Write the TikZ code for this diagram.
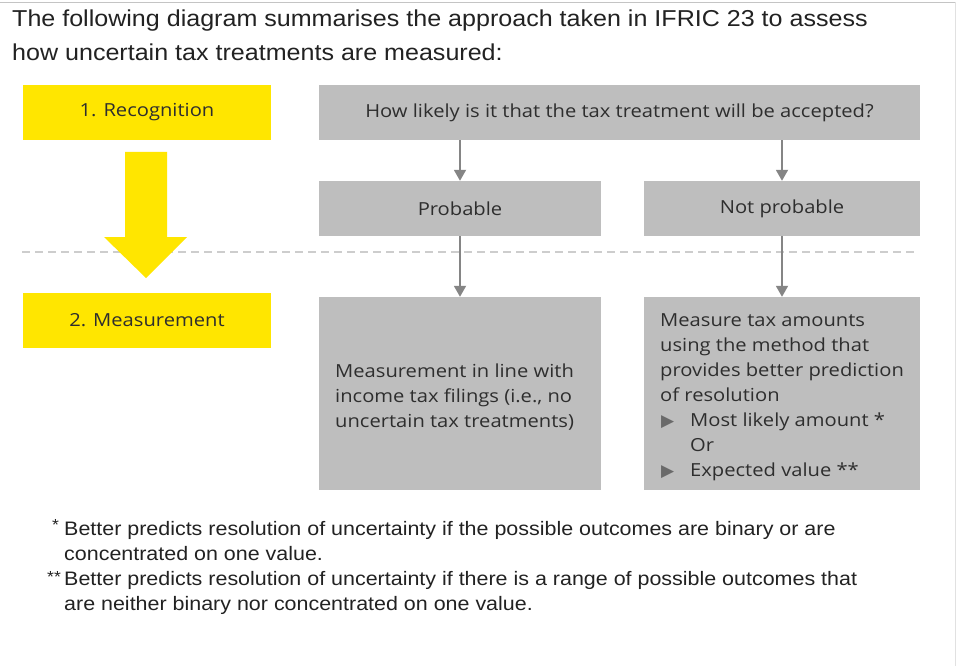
\documentclass[tikz,border=0pt]{standalone}
\usepackage{fontspec}
\setmainfont[FakeStretch=1.12]{Open Sans}
\newfontfamily\titlefont[FakeStretch=1.09]{Liberation Sans}
\newfontfamily\notefont[FakeStretch=1.1]{Liberation Sans}
\newfontfamily\symfont{DejaVu Sans}
\usetikzlibrary{arrows.meta}
\definecolor{eyyellow}{HTML}{FFE600}
\definecolor{boxgray}{HTML}{BEBEBE}
\definecolor{arrgray}{HTML}{858585}
\definecolor{bulgray}{HTML}{6A6A6A}
\definecolor{txt}{HTML}{2E2E2E}
\definecolor{titletxt}{HTML}{222222}
\definecolor{dashgray}{HTML}{CDCDCD}
\definecolor{edgegray}{HTML}{C4C4C4}
\begin{document}
\begin{tikzpicture}[x=1pt,y=-1pt,
  boxfont/.style={font=\fontsize{18}{25}\selectfont, text=txt},
  ybox/.style={fill=eyyellow, minimum width=248pt, minimum height=55pt, inner sep=0pt, boxfont},
  gbox/.style={fill=boxgray, inner sep=0pt, boxfont},
  conn/.style={draw=arrgray, line width=1.8pt, -{Triangle[length=11pt,width=12pt]}},
  ttl/.style={anchor=base west, inner sep=0pt, text=titletxt, font=\titlefont\fontsize{23}{34}\selectfont},
  fnote/.style={anchor=base west, inner sep=0pt, align=left, text=titletxt, font=\notefont\fontsize{19.5}{25}\selectfont}
]
\useasboundingbox (0,0) rectangle (956,666);
\fill[white] (0,0) rectangle (956,666);
\draw[edgegray, line width=1.2pt] (0,2.5) -- (956,2.5);
\draw[edgegray!50, line width=0.8pt] (955,2.5) -- (955,666);

% title
\node[ttl] (t1) at (12,27) {The following diagram summarises the approach taken in IFRIC 23 to assess};
\node[ttl] (t2) at (12,61) {how uncertain tax treatments are measured:};

% dashed separator
\draw[dashgray, line width=2pt, dash pattern=on 8pt off 5pt] (22,252) -- (915,252);

% yellow boxes
\node[ybox] (rec) at (147,112.5) {1. Recognition};
\node[ybox] (mea) at (147,320.5) {2. Measurement};

% yellow arrow
\fill[eyyellow] (125,152) -- (167,152) -- (167,237) -- (187,237) -- (146,278) -- (104,237) -- (125,237) -- cycle;

% gray boxes
\node[gbox, minimum width=601pt, minimum height=55pt] (q) at (619.5,112.5) {How likely is it that the tax treatment will be accepted?};
\node[gbox, minimum width=282pt, minimum height=55pt] (p) at (460,208.5) {Probable};
\node[gbox, minimum width=276pt, minimum height=55pt] (np) at (782,208.5) {Not probable};
\node[gbox, minimum width=282pt, minimum height=193pt] (ml) at (460,393.5) {};
\node[gbox, minimum width=276pt, minimum height=193pt] (mr) at (782,393.5) {};

\node[boxfont, anchor=base west, align=left, inner sep=0pt] (mltext) at (335,427)
  {Measurement in line with\\income tax filings (i.e., no\\uncertain tax treatments)};
\node[boxfont, anchor=base west, align=left, inner sep=0pt] (mrtext) at (660,476)
  {Measure tax amounts\\using the method that\\provides better prediction\\of resolution\\
   \makebox[30pt][l]{\hspace{1pt}\textcolor{bulgray}{\symfont\fontsize{17}{17}\selectfont ▶}}Most likely amount *\\
   \hspace{30pt}Or\\
   \makebox[30pt][l]{\hspace{1pt}\textcolor{bulgray}{\symfont\fontsize{17}{17}\selectfont ▶}}Expected value **};

% connectors
\draw[conn] (q.south -| p.north) -- (p.north);
\draw[conn] (q.south -| np.north) -- (np.north);
\draw[conn] (p.south) -- (ml.north);
\draw[conn] (np.south) -- (mr.north);

% footnotes
\node[fnote] (s1) at (52,530) {\fontsize{16}{16}\selectfont *};
\node[fnote] (f1) at (64,560) {Better predicts resolution of uncertainty if the possible outcomes are binary or are\\concentrated on one value.};
\node[fnote] (s2) at (47,582) {\fontsize{16}{16}\selectfont **};
\node[fnote] (f2) at (64,610) {Better predicts resolution of uncertainty if there is a range of possible outcomes that\\are neither binary nor concentrated on one value.};
\end{tikzpicture}
\end{document}
